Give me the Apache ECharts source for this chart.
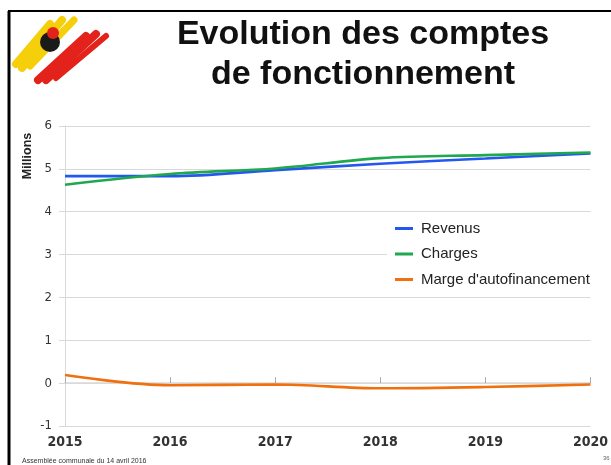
<!DOCTYPE html>
<html>
<head>
<meta charset="utf-8">
<script src="https://cdn.jsdelivr.net/npm/echarts@6/dist/echarts.min.js"></script>
<style>
  html, body { margin: 0; padding: 0; background: #fff; }
  #chart { width: 611px; height: 465px; }
</style>
</head>
<body>
<div id="chart"></div>
<script>
// years + values (in millions)
const years = ['2015', '2016', '2017', '2018', '2019', '2020']
const revenus = [4.83, 4.83, 4.97, 5.12, 5.24, 5.36]
const charges = [4.63, 4.88, 5.01, 5.25, 5.32, 5.38]
const marge = [0.19, -0.05, -0.03, -0.12, -0.09, -0.03]
const yTicks = { min: -1, max: 6, step: 1 }

const chart = echarts.init(document.getElementById('chart'))

const font = 'Liberation Sans, Arial, sans-serif'
const numFont = 'DejaVu Sans Condensed, Liberation Sans, sans-serif'
const gridColor = '#d9d9d9'

const mkSeries = (name, data, color) => ({
  name,
  type: 'line',
  data,
  xAxisIndex: 0,
  smooth: 0.35,
  symbol: 'none',
  lineStyle: { width: 2.6, color },
  itemStyle: { color }
})

chart.setOption({
  animation: false,
  backgroundColor: '#fff',
  textStyle: { fontFamily: font },
  grid: { left: 65, right: 16, top: 126, bottom: 39 },
  legend: {
    orient: 'vertical',
    left: 387,
    top: 217,
    itemWidth: 18,
    itemHeight: 3,
    itemGap: 10.5,
    padding: [4, 30, 4, 8],
    backgroundColor: '#fff',
    icon: 'rect',
    textStyle: { fontSize: 15, color: '#222', fontFamily: font, padding: [0, 0, 0, 3] },
    data: ['Revenus', 'Charges', "Marge d'autofinancement"]
  },
  xAxis: [
    {
      type: 'category',
      data: years,
      boundaryGap: false,
      axisLine: { show: false, onZero: false },
      axisTick: { show: false },
      axisLabel: { fontSize: 14, fontWeight: 'bold', color: '#333', margin: 9, fontFamily: numFont }
    },
    {
      type: 'category',
      data: years,
      position: 'bottom',
      boundaryGap: false,
      axisLine: { onZero: true, lineStyle: { color: gridColor, width: 1.5 } },
      axisTick: { inside: true, length: 6, lineStyle: { color: '#aaa' } },
      axisLabel: { show: false }
    }
  ],
  yAxis: {
    type: 'value',
    min: yTicks.min,
    max: yTicks.max,
    interval: yTicks.step,
    axisLine: { show: true, lineStyle: { color: gridColor } },
    axisTick: { show: true, length: 6, lineStyle: { color: gridColor } },
    splitLine: { lineStyle: { color: gridColor, width: 1.2 } },
    axisLabel: { fontSize: 13, color: '#333', margin: 13, fontFamily: numFont }
  },
  series: [
    mkSeries('Revenus', revenus, '#2457ee'),
    mkSeries('Charges', charges, '#1fa84f'),
    mkSeries("Marge d'autofinancement", marge, '#f0700f')
  ],
  graphic: [
    // slide frame
    { type: 'line', shape: { x1: 8, y1: 11, x2: 611, y2: 11 }, style: { stroke: '#000', lineWidth: 2 } },
    { type: 'line', shape: { x1: 9, y1: 11, x2: 9, y2: 465 }, style: { stroke: '#000', lineWidth: 3 } },
    // logo (rough brush strokes)
    { type: 'polyline', shape: { points: [[16, 64], [50, 24]] }, style: { stroke: '#f5cf0a', lineWidth: 8, lineCap: 'round' } },
    { type: 'polyline', shape: { points: [[22, 68], [62, 20]] }, style: { stroke: '#f5cf0a', lineWidth: 8, lineCap: 'round' } },
    { type: 'polyline', shape: { points: [[30, 66], [74, 20]] }, style: { stroke: '#f5cf0a', lineWidth: 7, lineCap: 'round' } },
    { type: 'circle', shape: { cx: 50, cy: 42, r: 10 }, style: { fill: '#1a1a1a' } },
    { type: 'circle', shape: { cx: 53, cy: 33, r: 6 }, style: { fill: '#e3231b' } },
    { type: 'polyline', shape: { points: [[38, 80], [86, 36]] }, style: { stroke: '#e3231b', lineWidth: 8, lineCap: 'round' } },
    { type: 'polyline', shape: { points: [[46, 80], [96, 34]] }, style: { stroke: '#e3231b', lineWidth: 8, lineCap: 'round' } },
    { type: 'polyline', shape: { points: [[56, 78], [106, 36]] }, style: { stroke: '#e3231b', lineWidth: 6, lineCap: 'round' } },
    // title
    {
      type: 'text', x: 363, y: 15,
      style: {
        text: 'Evolution des comptes\nde fonctionnement',
        font: 'bold 34px ' + font,
        fill: '#111', align: 'center', lineHeight: 40
      }
    },
    // axis title
    {
      type: 'text', x: 28, y: 156, rotation: Math.PI / 2,
      style: { text: 'Millions', font: 'bold 12.5px ' + font, fill: '#222', align: 'center', verticalAlign: 'middle' }
    },
    // footer
    { type: 'text', x: 22, y: 458, style: { text: 'Assemblée communale du 14 avril 2016', font: '7px ' + font, fill: '#333' } },
    { type: 'text', x: 603, y: 455, style: { text: '36', font: '6px ' + font, fill: '#666' } }
  ]
})
</script>
</body>
</html>
